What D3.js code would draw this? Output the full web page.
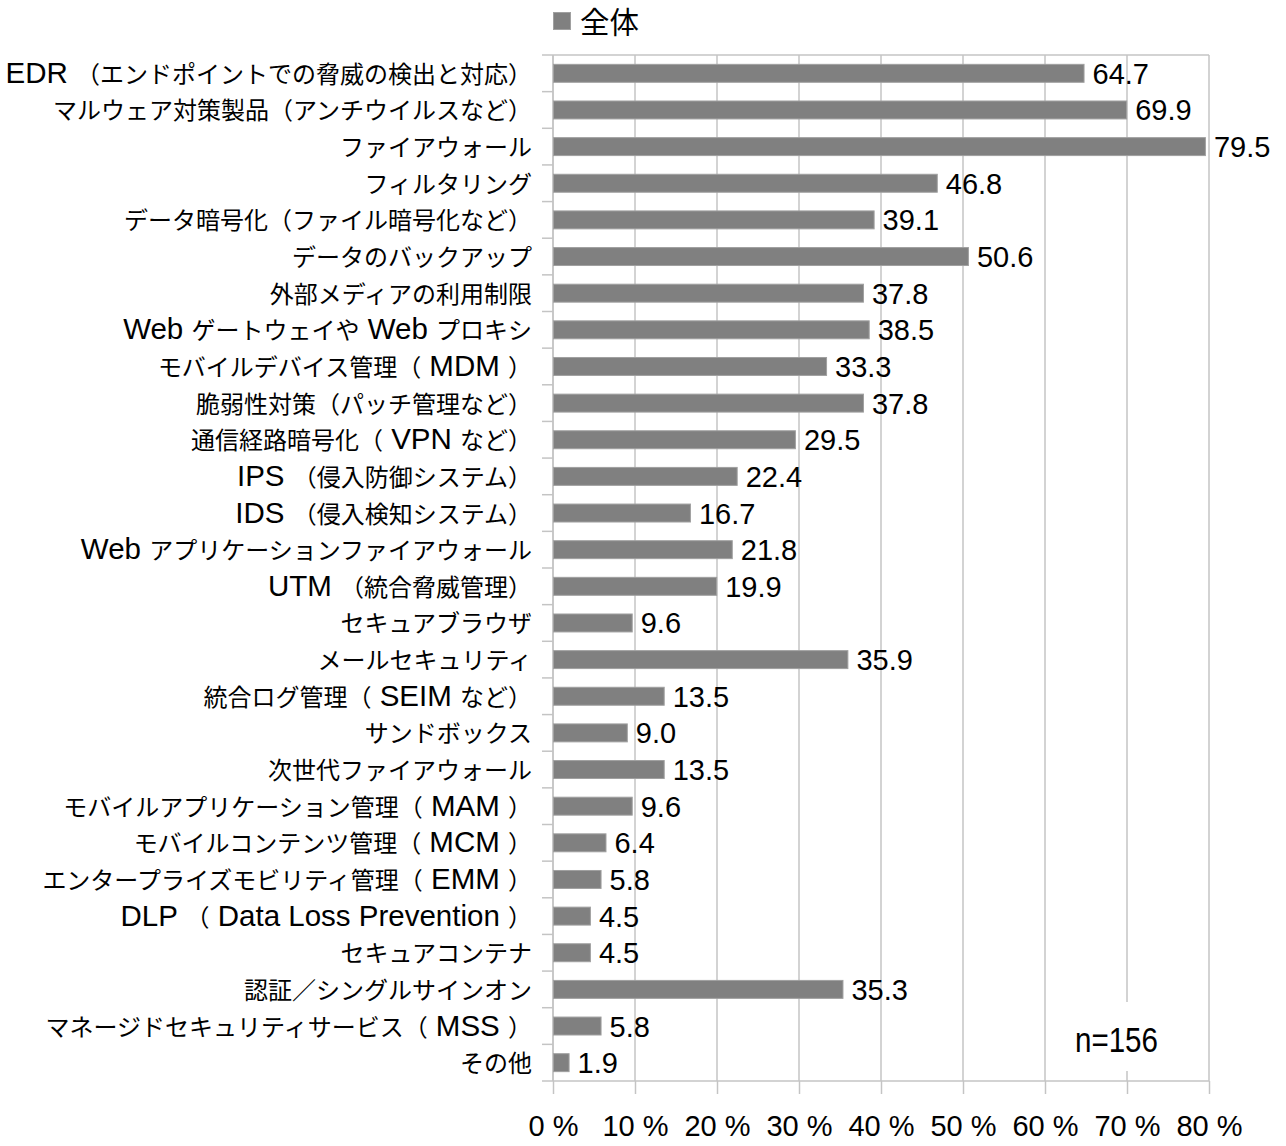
<!DOCTYPE html>
<html><head><meta charset="utf-8">
<script src="https://cdn.jsdelivr.net/npm/d3@7"></script>
<style>body{margin:0;background:#fff}svg{display:block}</style>
</head><body>
<script>
const categories = [
  "EDR （エンドポイントでの脅威の検出と対応）",
  "マルウェア対策製品（アンチウイルスなど）",
  "ファイアウォール",
  "フィルタリング",
  "データ暗号化（ファイル暗号化など）",
  "データのバックアップ",
  "外部メディアの利用制限",
  "Web ゲートウェイや Web プロキシ",
  "モバイルデバイス管理（ MDM ）",
  "脆弱性対策（パッチ管理など）",
  "通信経路暗号化（ VPN など）",
  "IPS （侵入防御システム）",
  "IDS （侵入検知システム）",
  "Web アプリケーションファイアウォール",
  "UTM （統合脅威管理）",
  "セキュアブラウザ",
  "メールセキュリティ",
  "統合ログ管理（ SEIM など）",
  "サンドボックス",
  "次世代ファイアウォール",
  "モバイルアプリケーション管理（ MAM ）",
  "モバイルコンテンツ管理（ MCM ）",
  "エンタープライズモビリティ管理（ EMM ）",
  "DLP （ Data Loss Prevention ）",
  "セキュアコンテナ",
  "認証／シングルサインオン",
  "マネージドセキュリティサービス（ MSS ）",
  "その他"
];
const values = [64.7,69.9,79.5,46.8,39.1,50.6,37.8,38.5,33.3,37.8,29.5,22.4,16.7,21.8,19.9,9.6,35.9,13.5,9.0,13.5,9.6,6.4,5.8,4.5,4.5,35.3,5.8,1.9];
const xTicks = [0,10,20,30,40,50,60,70,80];
const seriesName = "全体";
const sampleNote = "n=156";

const W = 1286, H = 1146;
const pLeft = 553, pRight = 1209, pTop = 55, pBottom = 1081;
const svg = d3.select("body").append("svg").attr("width", W).attr("height", H);

const x = d3.scaleLinear().domain([0, 80]).range([pLeft, pRight]);
const y = d3.scaleBand().domain(categories).range([pTop, pBottom]).paddingInner(0.51).paddingOuter(0.255);
const gridColor = "#c4c4c4";
const latin = "Liberation Sans, Arial, sans-serif";
const cjk = "Noto Sans CJK JP, sans-serif";

// gridlines
svg.append("g").selectAll("line").data(xTicks).join("line")
  .attr("x1", d => x(d)).attr("x2", d => x(d))
  .attr("y1", pTop).attr("y2", pBottom)
  .attr("stroke", gridColor).attr("stroke-width", 1.5);
// top border
svg.append("line").attr("x1", pLeft).attr("x2", pRight).attr("y1", pTop).attr("y2", pTop)
  .attr("stroke", gridColor).attr("stroke-width", 1.5);

// n box (white background that hides gridlines)
svg.append("rect").attr("x", 1062).attr("y", 1002).attr("width", 112).attr("height", 69).attr("fill", "#fff");
svg.append("text").attr("x", 1075).attr("y", 1052)
  .attr("font-family", latin).attr("font-size", 35)
  .attr("textLength", 83).attr("lengthAdjust", "spacingAndGlyphs")
  .text(sampleNote);

// bottom axis
const xAxis = svg.append("g").attr("transform", `translate(0,${pBottom})`)
  .call(d3.axisBottom(x).tickValues(xTicks).tickSize(13).tickFormat(d => d + " %"));
xAxis.select(".domain").attr("stroke", gridColor).attr("stroke-width", 1.5).attr("d", `M${pLeft-11},0H${pRight}`);
xAxis.selectAll(".tick line").attr("stroke", gridColor).attr("stroke-width", 1.5);
xAxis.selectAll(".tick text").attr("font-family", latin)
  .attr("font-size", 29).attr("fill", "#000").attr("dy", null).attr("y", 55);

// left axis
const bandEdges = categories.map((c, i) => pTop + i * (pBottom - pTop) / categories.length);
svg.append("line").attr("x1", pLeft).attr("x2", pLeft).attr("y1", pTop).attr("y2", pBottom)
  .attr("stroke", gridColor).attr("stroke-width", 1.5);
svg.append("g").selectAll("line").data(bandEdges).join("line")
  .attr("x1", pLeft - 11).attr("x2", pLeft).attr("y1", d => d).attr("y2", d => d)
  .attr("stroke", gridColor).attr("stroke-width", 1.5);

// bars
svg.append("g").selectAll("rect").data(values).join("rect")
  .attr("x", x(0) + 0.5).attr("y", (d, i) => y(categories[i]))
  .attr("width", d => x(d) - x(0)).attr("height", y.bandwidth())
  .attr("fill", "#808080").attr("stroke", "#a0a0a0").attr("stroke-width", 1);

// value labels
svg.append("g").selectAll("text").data(values).join("text")
  .attr("x", d => x(d) + 9)
  .attr("y", (d, i) => y(categories[i]) + y.bandwidth() / 2 + 10.5)
  .attr("font-family", latin).attr("font-size", 29)
  .text(d => d.toFixed(1));

// category labels with mixed fonts
const labelG = svg.append("g");
categories.forEach(c => {
  const t = labelG.append("text").attr("x", 532)
    .attr("y", y(c) + y.bandwidth() / 2 + 9.5).attr("text-anchor", "end")
    .style("white-space", "pre");
  const runs = c.match(/[\x20-\x7E]+|[^\x20-\x7E]+/g);
  runs.forEach(r => {
    const ascii = /^[\x20-\x7E]+$/.test(r);
    t.append("tspan").text(r)
      .attr("font-family", ascii ? latin : cjk)
      .attr("font-size", ascii ? 29.5 : 24);
  });
});

// legend
svg.append("rect").attr("x", 553.5).attr("y", 12.5).attr("width", 17).attr("height", 17)
  .attr("fill", "#808080").attr("stroke", "#a0a0a0");
svg.append("text").attr("x", 580).attr("y", 33)
  .attr("font-family", cjk).attr("font-size", 29.5).text(seriesName);
</script>
</body></html>
